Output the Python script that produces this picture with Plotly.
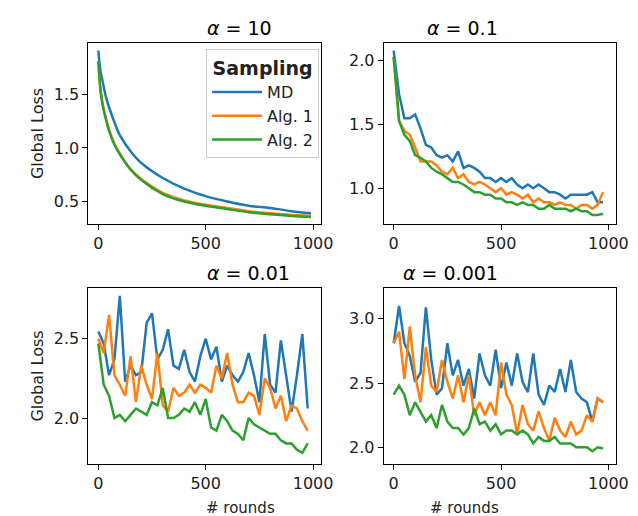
import numpy as np
import plotly.graph_objects as go

blue, orange, green = '#1f77b4', '#ff7f0e', '#2ca02c'
names = ['MD', 'Alg. 1', 'Alg. 2']

# alpha = 10 (smooth)
x_a = [0, 10, 20, 35, 50, 75, 100, 150, 200, 300, 400, 500, 600, 700, 800, 900, 990]
md_a = [1.91, 1.72, 1.62, 1.48, 1.38, 1.24, 1.12, 0.97, 0.86, 0.72, 0.62, 0.55, 0.50, 0.46, 0.44, 0.41, 0.39]
a1_a = [1.81, 1.55, 1.41, 1.28, 1.17, 1.04, 0.95, 0.80, 0.71, 0.58, 0.51, 0.47, 0.44, 0.41, 0.39, 0.375, 0.37]
a2_a = [1.81, 1.54, 1.40, 1.27, 1.16, 1.03, 0.94, 0.80, 0.70, 0.57, 0.50, 0.46, 0.43, 0.40, 0.38, 0.365, 0.355]

rounds = list(range(0, 1000, 25))

# alpha = 0.1
md_b = [2.08, 1.74, 1.55, 1.55, 1.58, 1.47, 1.34, 1.32, 1.26, 1.24, 1.26, 1.21, 1.29, 1.16,
        1.18, 1.16, 1.13, 1.08, 1.08, 1.05, 1.08, 1.05, 1.08, 1.03, 1.00, 1.03, 1.00, 1.03,
        1.00, 0.97, 0.97, 0.95, 0.92, 0.95, 0.95, 0.95, 0.95, 0.97, 0.89, 0.89]
a1_b = [2.03, 1.53, 1.45, 1.42, 1.32, 1.21, 1.21, 1.21, 1.18, 1.13, 1.11, 1.16, 1.08, 1.11,
        1.05, 1.03, 1.05, 1.03, 1.00, 0.97, 1.00, 0.95, 0.97, 0.95, 0.92, 0.95, 0.89, 0.92,
        0.89, 0.89, 0.87, 0.89, 0.87, 0.87, 0.84, 0.87, 0.87, 0.84, 0.87, 0.97]
a2_b = [2.03, 1.53, 1.42, 1.37, 1.26, 1.24, 1.21, 1.16, 1.13, 1.11, 1.08, 1.05, 1.05, 1.03,
        1.00, 0.97, 0.97, 0.95, 0.95, 0.92, 0.92, 0.89, 0.89, 0.87, 0.89, 0.87, 0.87, 0.84,
        0.84, 0.87, 0.84, 0.84, 0.84, 0.82, 0.84, 0.82, 0.82, 0.79, 0.79, 0.80]

# alpha = 0.01
md_c = [2.545, 2.47, 2.27, 2.37, 2.77, 2.23, 2.33, 2.27, 2.29, 2.60, 2.66, 2.37, 2.43, 2.56,
        2.33, 2.31, 2.43, 2.29, 2.23, 2.39, 2.50, 2.37, 2.45, 2.23, 2.33, 2.27, 2.23, 2.29,
        2.41, 2.27, 2.10, 2.53, 2.21, 2.16, 2.49, 2.27, 2.04, 2.27, 2.53, 2.06]
a1_c = [2.50, 2.41, 2.65, 2.27, 2.21, 2.14, 2.39, 2.10, 2.33, 2.21, 2.12, 2.41, 2.08, 2.04,
        2.19, 2.14, 2.16, 2.21, 2.16, 2.21, 2.19, 2.16, 2.33, 2.25, 2.41, 2.21, 2.10, 2.10,
        2.16, 2.14, 2.02, 2.25, 2.19, 2.06, 2.14, 1.98, 2.08, 2.06, 1.98, 1.92]
a2_c = [2.47, 2.21, 2.14, 2.00, 2.02, 1.98, 2.02, 2.06, 2.04, 2.02, 2.10, 2.08, 2.19, 2.00,
        2.00, 2.02, 2.06, 2.04, 2.10, 2.02, 2.12, 1.94, 1.92, 2.02, 1.98, 1.92, 1.90, 1.86,
        2.00, 1.96, 1.94, 1.92, 1.90, 1.90, 1.86, 1.84, 1.84, 1.80, 1.78, 1.84]

# alpha = 0.001
md_d = [2.81, 3.10, 2.81, 2.71, 2.51, 2.58, 3.09, 2.68, 2.41, 2.46, 2.81, 2.56, 2.68, 2.48,
        2.61, 2.38, 2.73, 2.56, 2.48, 2.76, 2.46, 2.66, 2.48, 2.73, 2.51, 2.43, 2.73, 2.41,
        2.33, 2.48, 2.43, 2.61, 2.43, 2.68, 2.43, 2.38, 2.35, 2.20, 2.38, 2.35]
a1_d = [2.81, 2.90, 2.53, 2.94, 2.56, 2.35, 2.78, 2.48, 2.43, 2.68, 2.51, 2.38, 2.56, 2.35,
        2.56, 2.25, 2.35, 2.25, 2.35, 2.25, 2.66, 2.41, 2.33, 2.10, 2.33, 2.18, 2.13, 2.28,
        2.15, 2.05, 2.23, 2.13, 2.08, 2.20, 2.10, 2.13, 2.25, 2.20, 2.38, 2.35]
a2_d = [2.41, 2.48, 2.41, 2.25, 2.35, 2.28, 2.20, 2.25, 2.15, 2.33, 2.20, 2.15, 2.15, 2.10,
        2.15, 2.30, 2.18, 2.20, 2.13, 2.18, 2.10, 2.13, 2.13, 2.10, 2.13, 2.10, 2.03, 2.08,
        2.05, 2.05, 2.08, 2.03, 2.03, 2.03, 2.00, 2.00, 2.00, 1.97, 2.00, 1.99]

panels = [
    (x_a, [md_a, a1_a, a2_a], '10', [0.29, 1.98], [0.5, 1.0, 1.5]),
    (rounds, [md_b, a1_b, a2_b], '0.1', [0.72, 2.14], [1.0, 1.5, 2.0]),
    (rounds, [md_c, a1_c, a2_c], '0.01', [1.71, 2.82], [2.0, 2.5]),
    (rounds, [md_d, a1_d, a2_d], '0.001', [1.87, 3.24], [2.0, 2.5, 3.0]),
]
xdoms = [[82/638, 319/638], [383/638, 620/638]]
ydoms = [[1-216/516, 1-35/516], [1-456/516, 1-280/516]]

fig = go.Figure()
font = dict(family='DejaVu Sans', size=16, color='#222222')
for i, (xs, ys, title, yr, yt) in enumerate(panels):
    k = i + 1
    sfx = '' if k == 1 else str(k)
    for y, c, n in zip(ys, [blue, orange, green], names):
        fig.add_trace(go.Scatter(x=xs, y=y, mode='lines', name=n, line=dict(color=c, width=2.5),
                                 line_shape='spline' if k == 1 else 'linear',
                                 xaxis='x' + sfx, yaxis='y' + sfx, showlegend=(k == 1)))
    col, row = i % 2, i // 2
    axstyle = dict(showline=True, linecolor='black', linewidth=1.2, mirror=True, ticks='outside',
                   ticklen=5, tickcolor='black', showgrid=False, zeroline=False, tickfont=font)
    fig.layout['xaxis' + sfx] = dict(domain=xdoms[col], anchor='y' + sfx, range=[-46, 1037],
                                     tickvals=[0, 500, 1000], **axstyle)
    fig.layout['yaxis' + sfx] = dict(domain=ydoms[row], anchor='x' + sfx, range=yr, tickvals=yt,
                                     ticktext=[f'{v:.1f}' for v in yt],
                                     title=dict(text='Global Loss', font=font, standoff=6) if col == 0 else None,
                                     **axstyle)
    fig.add_annotation(text='<i>α</i> = ' + title, xref='paper', yref='paper',
                       x=sum(xdoms[col]) / 2, y=ydoms[row][1], yanchor='bottom', yshift=2,
                       showarrow=False, font=dict(family='DejaVu Sans', size=19, color='black'))
    if row == 1:
        fig.add_annotation(text='# rounds', xref='paper', yref='paper',
                           x=sum(xdoms[col]) / 2, y=16/516, yanchor='middle',
                           showarrow=False, borderpad=0, font=dict(family='DejaVu Sans', size=15, color='#222222'))

fig.update_layout(
    width=638, height=516, margin=dict(l=0, r=0, t=0, b=0),
    paper_bgcolor='white', plot_bgcolor='white', font=font,
    legend=dict(x=0.497, y=0.92, xanchor='right', yanchor='top', bordercolor='#cccccc', borderwidth=1,
                bgcolor='white', title=dict(text='<b>Sampling</b>', side='top center'),
                tracegroupgap=2, itemwidth=50,
                font=dict(family='DejaVu Sans', size=16, color='#222222')),
)
fig.write_html('out.html')
